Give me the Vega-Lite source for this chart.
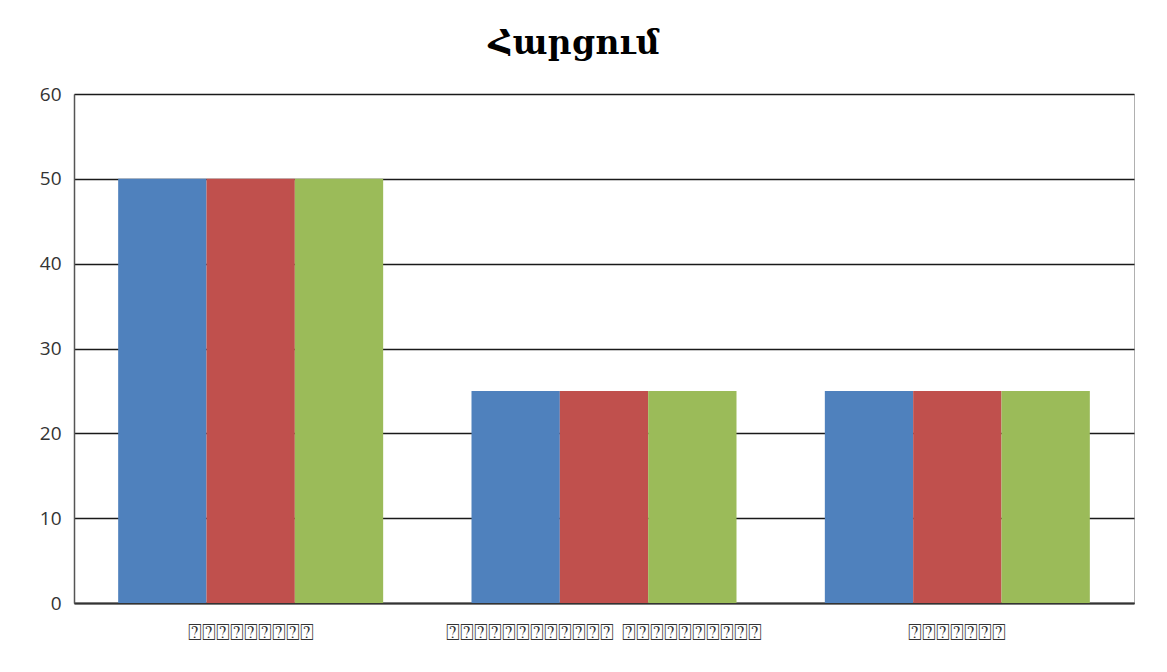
{
  "$schema": "https://vega.github.io/schema/vega-lite/v6.json",
  "width": 1060,
  "height": 509,
  "autosize": "none",
  "padding": {"left": 74, "top": 94, "right": 33, "bottom": 69},
  "background": "white",
  "title": {
    "text": "Հարցում",
    "font": "DejaVu Serif",
    "fontSize": 33,
    "fontWeight": "bold",
    "color": "#000000",
    "anchor": "middle",
    "dx": -30,
    "offset": 24
  },
  "data": {
    "values": [
      {"category": "⍰⍰⍰⍰⍰⍰⍰⍰⍰", "series": "Series 1", "value": 50},
      {"category": "⍰⍰⍰⍰⍰⍰⍰⍰⍰", "series": "Series 2", "value": 50},
      {"category": "⍰⍰⍰⍰⍰⍰⍰⍰⍰", "series": "Series 3", "value": 50},
      {"category": "⍰⍰⍰⍰⍰⍰⍰⍰⍰⍰⍰⍰ ⍰⍰⍰⍰⍰⍰⍰⍰⍰⍰", "series": "Series 1", "value": 25},
      {"category": "⍰⍰⍰⍰⍰⍰⍰⍰⍰⍰⍰⍰ ⍰⍰⍰⍰⍰⍰⍰⍰⍰⍰", "series": "Series 2", "value": 25},
      {"category": "⍰⍰⍰⍰⍰⍰⍰⍰⍰⍰⍰⍰ ⍰⍰⍰⍰⍰⍰⍰⍰⍰⍰", "series": "Series 3", "value": 25},
      {"category": "⍰⍰⍰⍰⍰⍰⍰", "series": "Series 1", "value": 25},
      {"category": "⍰⍰⍰⍰⍰⍰⍰", "series": "Series 2", "value": 25},
      {"category": "⍰⍰⍰⍰⍰⍰⍰", "series": "Series 3", "value": 25}
    ]
  },
  "mark": {"type": "bar"},
  "encoding": {
    "x": {
      "field": "category",
      "type": "nominal",
      "sort": null,
      "scale": {"paddingInner": 0.25, "paddingOuter": 0.125},
      "axis": {
        "title": null,
        "labelAngle": 0,
        "labelFont": "DejaVu Sans",
        "labelFontSize": 23,
        "labelLimit": 0,
        "labelColor": "#333333",
        "labelPadding": 18,
        "ticks": false,
        "domainColor": "#333333",
        "domainWidth": 2
      }
    },
    "xOffset": {"field": "series", "type": "nominal", "scale": {"paddingInner": 0}},
    "y": {
      "field": "value",
      "type": "quantitative",
      "scale": {"domain": [0, 60]},
      "axis": {
        "title": null,
        "values": [0, 10, 20, 30, 40, 50, 60],
        "labelFont": "Open Sans",
        "labelFontSize": 19,
        "labelColor": "#333333",
        "labelPadding": 13,
        "ticks": false,
        "gridColor": "#1a1a1a",
        "gridWidth": 1.5,
        "domainColor": "#555555",
        "domainWidth": 1.5
      }
    },
    "color": {
      "field": "series",
      "type": "nominal",
      "scale": {"range": ["#4F81BD", "#C0504D", "#9BBB59"]},
      "legend": null
    }
  },
  "config": {
    "view": {"stroke": "#b0b0b0", "strokeWidth": 1}
  }
}
